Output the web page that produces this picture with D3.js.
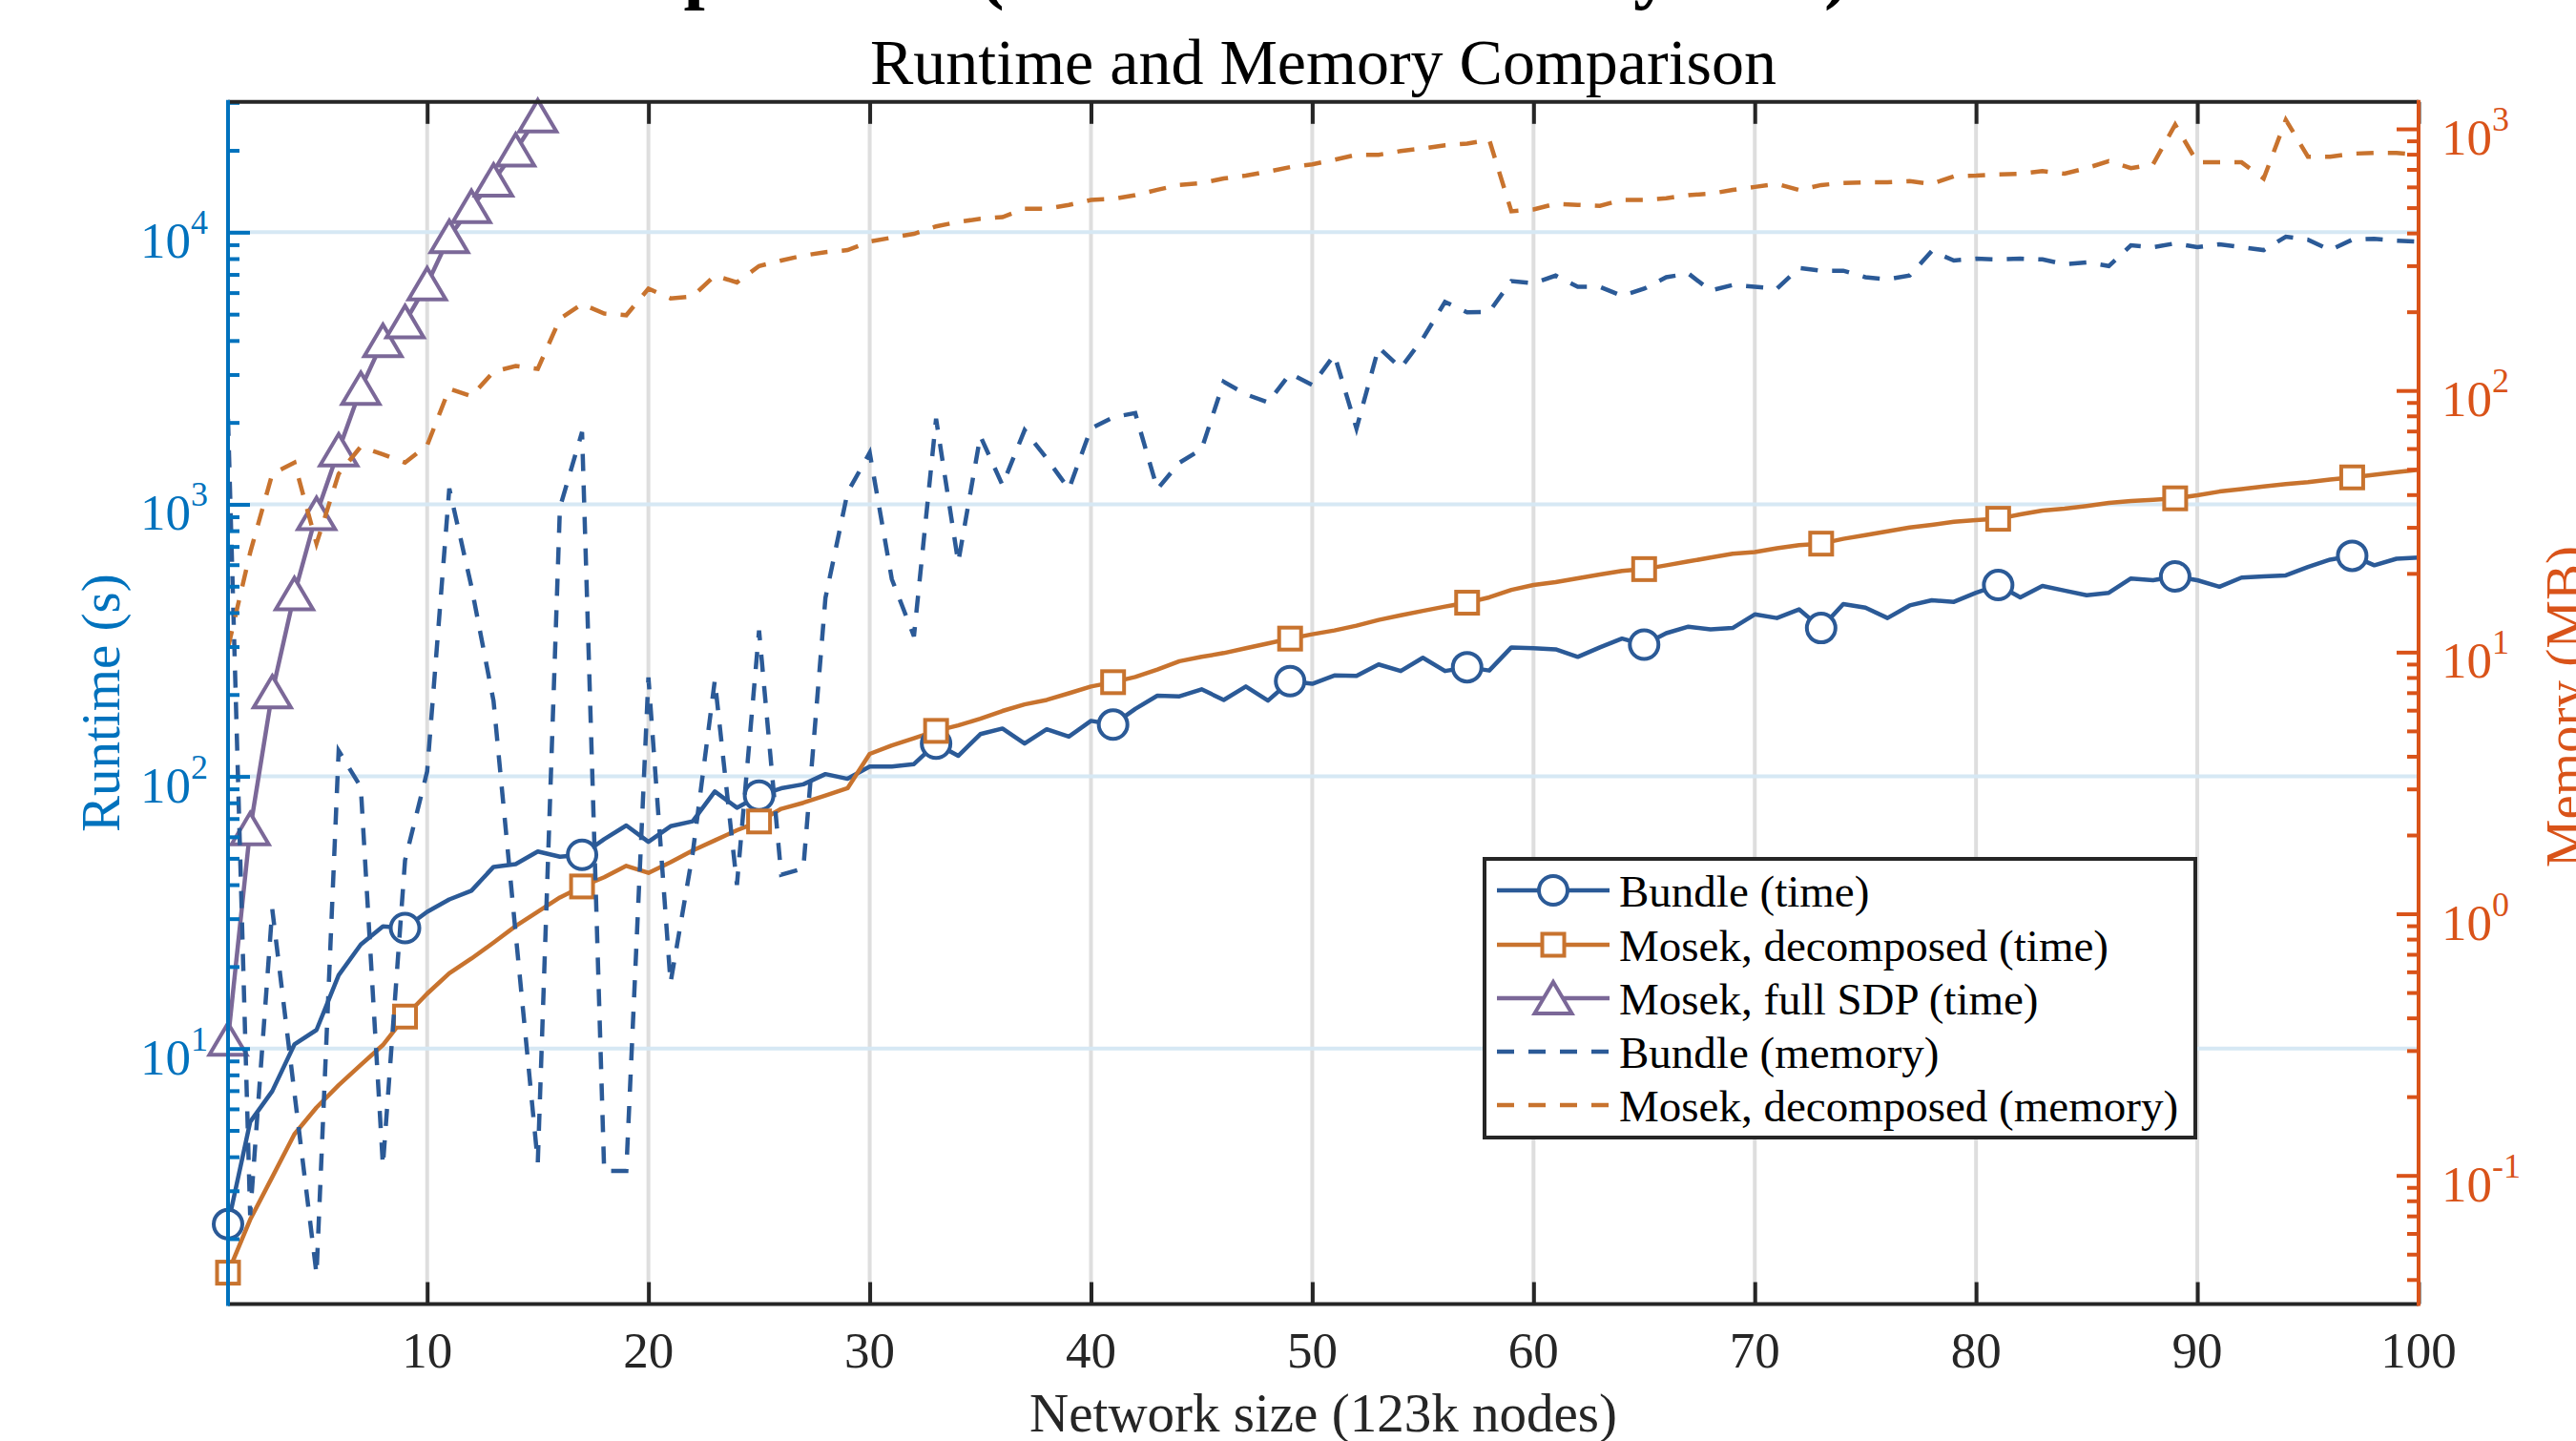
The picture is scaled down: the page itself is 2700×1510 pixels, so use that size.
<!DOCTYPE html>
<html><head><meta charset="utf-8">
<script src="https://cdn.jsdelivr.net/npm/d3@7"></script>
<style>html,body{margin:0;padding:0;background:#fff;overflow:hidden}svg{display:block;font-family:"Liberation Serif","Times New Roman",serif}</style>
</head><body><svg id="chart" width="2700" height="1510"></svg>
<script>
// ---------------- data ----------------
const networkSize = d3.range(1, 101);
const xTicks = [10, 20, 30, 40, 50, 60, 70, 80, 90, 100];
const leftTicks = [1e1, 1e2, 1e3, 1e4];
const leftTickExp = ["1", "2", "3", "4"];
const rightTicks = [1e-1, 1e0, 1e1, 1e2, 1e3];
const rightTickExp = ["-1", "0", "1", "2", "3"];

const bundleTime = [2.26,5.37,6.97,10.35,11.7,18.6,24.1,28.1,27.7,31.8,35.3,38,46.5,47.6,53,50.7,51.5,58.8,66,57.5,
65.6,68.4,88,76.7,85,90.4,93.5,102,98,108.7,108.7,111,132,119,143,150,132,149,140,160,
155,177,198,197,209,191,214,190,224,219,235,234,258,244,273,244,252,245,298,296,
293,275,298,321,305,336,355,347,351,394,382,411,351,430,417,382,425,444,438,473,
505,455,501,482,463,473,534,526,543,526,498,538,543,548,588,626,647,597,631,637];

const mosekDecTime = [1.5,2.35,3.37,4.84,6.07,7.33,8.7,10.3,13.1,15.9,18.9,21.4,24.5,28.2,31.8,35.9,39.4,42.6,46.9,44.2,
48.4,53.4,58.2,63.4,68.3,76,80,85,90.5,121,130,138,147,154,163,174,184,191,202,214,
222,232,247,265,275,284,296,308,321,333,344,358,376,391,406,421,435,455,485,505,
518,535,552,569,578,597,617,637,658,668,690,708,717,747,771,796,822,841,863,875,
885,918,948,964,986,1012,1028,1038,1052,1079,1114,1138,1164,1186,1206,1233,1256,1285,1314,1340];

const fullSdpSize = [1,2,3,4,5,6,7,8,9,10,11,12,13,14,15];
const fullSdpTime = [10.8,64,204,468,923,1580,2660,3990,4680,6450,9620,12400,15500,20000,26700];

const bundleMem = [78,0.0705,1.04,0.207,0.0419,4.2,3.05,0.109,1.6,3.5,42.2,17.8,6.5,0.84,0.112,35.7,69.4,0.104,0.104,8.0,
0.545,1.7,7.8,1.29,12.1,1.41,1.49,16.1,40.8,57.8,19,11.5,78,22,67,43.5,70.5,55,42,71.6,
79,82,42,53,59.7,108,96.7,90,116,105,137,71.6,146,122,158,218,199,200,262,257,
275,249,249,230,245,271,280,241,253,249,245,294,287,287,271,266,275,341,314,319,
317,319,317,304,309,299,359,353,365,353,362,353,344,387,377,344,377,380,374,371];

const mosekDecMem = [10.4,24,48,53,26,48,61,57,53,61.7,101.6,95,118,124,121,188,214,197,194,245,
225,229,275,259,299,314,328,338,344,371,384,397,424,441,453,460,495,495,512,535,
540,558,585,611,621,646,663,686,714,732,762,796,796,823,842,865,879,908,484,492,
517,512,508,535,535,543,558,565,584,600,616,584,610,621,625,625,631,616,659,663,
670,674,690,674,708,752,708,732,1038,745,745,745,646,1083,783,783,804,809,809,796];

const legendLabels = ["Bundle (time)", "Mosek, decomposed (time)", "Mosek, full SDP (time)", "Bundle (memory)", "Mosek, decomposed (memory)"];
const titleText = "Runtime and Memory Comparison";
const xLabel = "Network size (123k nodes)";
const yLeftLabel = "Runtime (s)";
const yRightLabel = "Memory (MB)";

// ---------------- layout ----------------
const L = 239, R = 2535, T = 106.8, B = 1366.5;
const C = {left: "#0072BD", right: "#D95319", frame: "#262626", blue: "#2B5A97", orange: "#C8732E", purple: "#7B6898",
           gridX: "#dedede", gridY: "#d6e8f4"};
const FS = {tick: 53, sup: 36, label: 57, title: 68, legend: 47};
const LW = 4.5;

const svg = d3.select("#chart");
svg.append("rect").attr("width", 2700).attr("height", 1510).attr("fill", "#fff");

const x = d3.scaleLinear().domain([1, 100]).range([L, R]);
const yL = d3.scaleLog().domain([Math.pow(10, 0.0607), Math.pow(10, 4.479)]).range([B, T]);
const yR = d3.scaleLog().domain([Math.pow(10, -1.4917), Math.pow(10, 3.103)]).range([B, T]);

function minorTicks(scale, e0, e1) {
  const out = [];
  const [d0, d1] = scale.domain();
  for (let e = e0; e <= e1; e++) for (let m = 2; m <= 9; m++) {
    const v = m * Math.pow(10, e);
    if (v > d0 && v < d1) out.push(v);
  }
  return out;
}

// clipped top text line (only the descenders fall inside the picture)
const topLine = svg.append("text").attr("y", -6).attr("font-size", 80).attr("font-weight", "bold").attr("fill", "#000");
topLine.append("tspan").attr("x", 552).text("Comparison");
topLine.append("tspan").attr("x", 1026).text("(Network Anal");
topLine.append("tspan").attr("x", 1712).text("ysis");
topLine.append("tspan").attr("x", 1912).text(")");

// grid
const grid = svg.append("g");
grid.selectAll(".gx").data(xTicks.filter(v => v < 100)).join("line")
  .attr("x1", d => x(d)).attr("x2", d => x(d)).attr("y1", T).attr("y2", B)
  .attr("stroke", C.gridX).attr("stroke-width", 4);
grid.selectAll(".gy").data(leftTicks).join("line")
  .attr("x1", L).attr("x2", R).attr("y1", d => yL(d)).attr("y2", d => yL(d))
  .attr("stroke", C.gridY).attr("stroke-width", 4);

// clip
svg.append("clipPath").attr("id", "plotclip").append("rect").attr("x", L).attr("y", T).attr("width", R - L).attr("height", B - T);
const plotLayer = svg.append("g").attr("clip-path", "url(#plotclip)");
const markLayer = svg.append("g");

const lineL = d3.line().x((d, i) => x(networkSize[i])).y(d => yL(d));
const lineR = d3.line().x((d, i) => x(networkSize[i])).y(d => yR(d));
const markerIdx = d3.range(0, 100, 8);

function drawCircle(g, cx, cy, color) {
  g.append("circle").attr("cx", cx).attr("cy", cy).attr("r", 15).attr("fill", "#fff").attr("stroke", color).attr("stroke-width", 4);
}
function drawSquare(g, cx, cy, color) {
  g.append("rect").attr("x", cx - 11.5).attr("y", cy - 11.5).attr("width", 23).attr("height", 23).attr("fill", "#fff").attr("stroke", color).attr("stroke-width", 4);
}
function drawTriangle(g, cx, cy, color) {
  g.append("path").attr("d", `M${cx},${cy - 17}L${cx + 19.5},${cy + 16}L${cx - 19.5},${cy + 16}Z`)
    .attr("fill", "#fff").attr("stroke", color).attr("stroke-width", 4).attr("stroke-linejoin", "miter");
}

// left-axis series
plotLayer.append("path").attr("d", lineL(bundleTime)).attr("fill", "none").attr("stroke", C.blue).attr("stroke-width", LW).attr("stroke-linejoin", "round");
markerIdx.forEach(i => drawCircle(markLayer, x(networkSize[i]), yL(bundleTime[i]), C.blue));
plotLayer.append("path").attr("d", lineL(mosekDecTime)).attr("fill", "none").attr("stroke", C.orange).attr("stroke-width", LW).attr("stroke-linejoin", "round");
markerIdx.forEach(i => drawSquare(markLayer, x(networkSize[i]), yL(mosekDecTime[i]), C.orange));
plotLayer.append("path").attr("d", d3.line().x((d, i) => x(fullSdpSize[i])).y(d => yL(d))(fullSdpTime))
  .attr("fill", "none").attr("stroke", C.purple).attr("stroke-width", LW).attr("stroke-linejoin", "round");
fullSdpTime.forEach((v, i) => drawTriangle(markLayer, x(fullSdpSize[i]), yL(v), C.purple));

// right-axis series (dashed, drawn on top)
const dashLayer = svg.append("g").attr("clip-path", "url(#plotclip)");
dashLayer.append("path").attr("d", lineR(bundleMem)).attr("fill", "none").attr("stroke", C.blue).attr("stroke-width", LW).attr("stroke-dasharray", "18,15");
dashLayer.append("path").attr("d", lineR(mosekDecMem)).attr("fill", "none").attr("stroke", C.orange).attr("stroke-width", LW).attr("stroke-dasharray", "18,15");

// axes
function styleAxis(g, color) {
  g.select(".domain").remove();
  g.selectAll(".tick line").attr("stroke", color).attr("stroke-width", 4);
  g.selectAll(".tick text").remove();
}
const gB = svg.append("g").attr("transform", `translate(0,${B})`).call(d3.axisBottom(x).tickValues(xTicks).tickSize(-23));
styleAxis(gB, C.frame);
const gT = svg.append("g").attr("transform", `translate(0,${T})`).call(d3.axisTop(x).tickValues(xTicks).tickSize(-23));
styleAxis(gT, C.frame);
const gL = svg.append("g").attr("transform", `translate(${L},0)`).call(d3.axisLeft(yL).tickValues(leftTicks).tickSize(-23));
styleAxis(gL, C.left);
const gLm = svg.append("g").attr("transform", `translate(${L},0)`).call(d3.axisLeft(yL).tickValues(minorTicks(yL, 0, 4)).tickSize(-12));
styleAxis(gLm, C.left);
const gR = svg.append("g").attr("transform", `translate(${R},0)`).call(d3.axisRight(yR).tickValues(rightTicks).tickSize(-23));
styleAxis(gR, C.right);
const gRm = svg.append("g").attr("transform", `translate(${R},0)`).call(d3.axisRight(yR).tickValues(minorTicks(yR, -2, 3)).tickSize(-12));
styleAxis(gRm, C.right);

// frame
svg.append("line").attr("x1", L).attr("x2", R).attr("y1", T).attr("y2", T).attr("stroke", C.frame).attr("stroke-width", 4);
svg.append("line").attr("x1", L).attr("x2", R).attr("y1", B).attr("y2", B).attr("stroke", C.frame).attr("stroke-width", 4);
svg.append("line").attr("x1", L).attr("x2", L).attr("y1", T - 2).attr("y2", B + 2).attr("stroke", C.left).attr("stroke-width", 4);
svg.append("line").attr("x1", R).attr("x2", R).attr("y1", T - 2).attr("y2", B + 2).attr("stroke", C.right).attr("stroke-width", 4);

// tick labels
svg.append("g").selectAll("text").data(xTicks).join("text")
  .attr("x", d => x(d)).attr("y", 1433).attr("text-anchor", "middle").attr("font-size", FS.tick).attr("fill", C.frame).text(d => d);

leftTicks.forEach((v, i) => {
  const t = svg.append("text").attr("x", 218).attr("y", yL(v) + 27).attr("text-anchor", "end").attr("fill", C.left).attr("font-size", FS.tick);
  t.append("tspan").text("10");
  t.append("tspan").attr("font-size", FS.sup).attr("dy", -25).text(leftTickExp[i]);
});
rightTicks.forEach((v, i) => {
  const t = svg.append("text").attr("x", 2559).attr("y", yR(v) + 27).attr("text-anchor", "start").attr("fill", C.right).attr("font-size", FS.tick);
  t.append("tspan").text("10");
  t.append("tspan").attr("font-size", FS.sup).attr("dy", -25).text(rightTickExp[i]);
});

// labels
svg.append("text").attr("x", (L + R) / 2).attr("y", 88).attr("text-anchor", "middle").attr("font-size", FS.title).attr("fill", "#000").text(titleText);
svg.append("text").attr("x", (L + R) / 2).attr("y", 1500).attr("text-anchor", "middle").attr("font-size", FS.label).attr("fill", C.frame).text(xLabel);
svg.append("text").attr("transform", `translate(125,${(T + B) / 2}) rotate(-90)`).attr("text-anchor", "middle").attr("font-size", FS.label).attr("fill", C.left).text(yLeftLabel);
svg.append("text").attr("transform", `translate(2708,${(T + B) / 2 + 4}) rotate(-90)`).attr("text-anchor", "middle").attr("font-size", FS.label).attr("fill", C.right).text(yRightLabel);

// legend
const lg = svg.append("g");
lg.append("rect").attr("x", 1556).attr("y", 900).attr("width", 745).attr("height", 292).attr("fill", "#fff").attr("stroke", C.frame).attr("stroke-width", 4);
const rowY = [933, 990, 1046, 1102, 1158];
const legColors = [C.blue, C.orange, C.purple, C.blue, C.orange];
legendLabels.forEach((lab, i) => {
  const yy = rowY[i];
  const ln = lg.append("line").attr("x1", 1569).attr("x2", 1687).attr("y1", yy).attr("y2", yy).attr("stroke", legColors[i]).attr("stroke-width", LW);
  if (i >= 3) ln.attr("stroke-dasharray", "18,15");
  if (i === 0) drawCircle(lg, 1628, yy, legColors[i]);
  if (i === 1) drawSquare(lg, 1628, yy, legColors[i]);
  if (i === 2) drawTriangle(lg, 1628, yy, legColors[i]);
  lg.append("text").attr("x", 1697).attr("y", yy + 17).attr("font-size", FS.legend).attr("fill", "#000").text(lab);
});
</script></body></html>
